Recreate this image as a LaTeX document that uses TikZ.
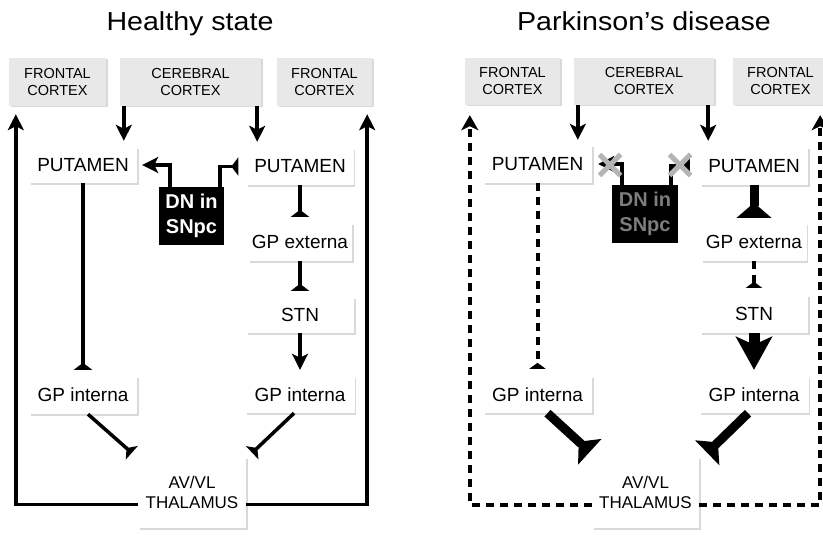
\documentclass[tikz,border=0pt]{standalone}
\usepackage{fontspec}
\setmainfont{Liberation Sans}
\newfontfamily\titlefont[FakeStretch=1.1]{Liberation Sans}
\usetikzlibrary{arrows.meta,shadows,shapes.misc}
\definecolor{boxgrey}{RGB}{232,232,232}
\definecolor{xgrey}{RGB}{180,180,180}
\definecolor{dngrey}{RGB}{125,125,125}
\begin{document}
\begin{tikzpicture}[x=1pt,y=-1pt,
  box/.style={fill=white, inner sep=0pt, align=center,
    font=\fontsize{19}{22}\selectfont,
    drop shadow={shadow xshift=1.5pt, shadow yshift=-1.5pt, fill=black, opacity=0.15}},
  gbox/.style={box, fill=boxgrey, font=\fontsize{14.5}{17}\selectfont},
  thbox/.style={box, font=\fontsize{17}{19.5}\selectfont},
  dnbox/.style={fill=black, inner sep=0pt, align=center, text=white,
    font=\fontsize{20}{25}\selectfont\bfseries},
  ttl/.style={anchor=base, font=\titlefont\fontsize{26}{30}\selectfont},
  ln/.style={line width=3.5pt},
  arr/.style={ln, -{Stealth[length=16pt,width=16pt,inset=4pt]}},
  tee/.style={ln, -{Triangle[reversed,length=7pt,width=18pt]}},
  dsh/.style={line width=4pt, dash pattern=on 8pt off 6pt},
  darr/.style={dsh, -{Stealth[length=15pt,width=17pt,inset=4pt]}},
  dtee/.style={dsh, -{Triangle[reversed,length=6pt,width=16pt]}},
  bigtee/.style={line width=9pt, -{Triangle[reversed,length=15pt,width=34pt]}},
  bigarr/.style={line width=11pt, -{Stealth[length=33pt,width=36pt,inset=8pt]}},
  xmk/.style={cross out, draw=xgrey, line width=5pt, minimum size=16pt, inner sep=0pt}
]
\useasboundingbox[fill=white] (0,0) rectangle (823,535);

% titles
\node[ttl] (t1) at (190,31) {Healthy state};
\node[ttl] (t2) at (644,31) {Parkinson’s disease};

% ---------- left panel ----------
\node[gbox, minimum width=97pt, minimum height=48pt] (fcL1) at (57.5,82) {FRONTAL\\CORTEX};
\node[gbox, minimum width=141pt, minimum height=48pt] (ccL) at (190.5,82) {CEREBRAL\\CORTEX};
\node[gbox, minimum width=95pt, minimum height=48pt] (fcL2) at (324.5,82) {FRONTAL\\CORTEX};
\node[box, minimum width=108pt, minimum height=36pt] (putL1) at (83,165) {PUTAMEN};
\node[box, minimum width=107pt, minimum height=37pt] (putL2) at (300,166.5) {PUTAMEN};
\node[dnbox, minimum width=65pt, minimum height=58pt] (dnL) at (191.5,216) {DN in\\SNpc};
\node[box, minimum width=104pt, minimum height=38pt] (gpeL) at (300,242) {GP externa};
\node[box, minimum width=108pt, minimum height=36pt] (stnL) at (300,315) {STN};
\node[box, minimum width=109pt, minimum height=37pt] (gpiL2) at (300,394.5) {GP interna};
\node[box, minimum width=108pt, minimum height=38pt] (gpiL1) at (83,395) {GP interna};
\node[thbox, minimum width=108pt, minimum height=71pt] (thL) at (192,492.5) {AV/VL\\THALAMUS};

\draw[arr, shorten >=6pt] ([xshift=4pt]ccL.south west) -- ([xshift=4pt]ccL.south west |- putL1.north);
\draw[arr, shorten >=6pt] ([xshift=-4pt]ccL.south east) -- ([xshift=-4pt]ccL.south east |- putL2.north);
\draw[arr] ([xshift=11pt]dnL.north west) |- ([xshift=5pt]putL1.east);
\draw[tee] ([xshift=-4pt]dnL.north east) |- ([xshift=-8pt]putL2.west);
\draw[tee, shorten >=6pt] (putL2.south) -- (gpeL.north);
\draw[tee, shorten >=6pt] (gpeL.south) -- (stnL.north);
\draw[arr, shorten >=6pt] (stnL.south) -- (gpiL2.north);
\draw[tee, shorten >=6pt] (putL1.south) -- (gpiL1.north);
\draw[tee] ([xshift=5pt]gpiL1.south) -- ([xshift=-6pt,yshift=4pt]thL.north west);
\draw[tee] ([xshift=-6pt]gpiL2.south) -- ([xshift=6pt,yshift=4pt]thL.north east);
\draw[arr, shorten >=8pt] ([yshift=-12pt]thL.west) -| ([xshift=7pt]fcL1.south west);
\draw[arr, shorten >=8pt] ([yshift=-12pt]thL.east) -| ([xshift=-5pt]fcL2.south east);

% ---------- right panel ----------
\node[gbox, minimum width=95pt, minimum height=47pt] (fcR1) at (512.5,81.5) {FRONTAL\\CORTEX};
\node[gbox, minimum width=140pt, minimum height=47pt] (ccR) at (644,81.5) {CEREBRAL\\CORTEX};
\node[gbox, minimum width=95pt, minimum height=47pt] (fcR2) at (780.5,81.5) {FRONTAL\\CORTEX};
\node[box, minimum width=109pt, minimum height=38pt] (putR1) at (537.5,164) {PUTAMEN};
\node[box, minimum width=108pt, minimum height=38pt] (putR2) at (754,166) {PUTAMEN};
\node[dnbox, text=dngrey, minimum width=66pt, minimum height=58pt] (dnR) at (645,214) {DN in\\SNpc};
\node[box, minimum width=105pt, minimum height=38pt] (gpeR) at (754,242) {GP externa};
\node[box, minimum width=108pt, minimum height=38pt] (stnR) at (754,314) {STN};
\node[box, minimum width=109pt, minimum height=37pt] (gpiR2) at (754,394.5) {GP interna};
\node[box, minimum width=109pt, minimum height=37pt] (gpiR1) at (537.5,394.5) {GP interna};
\node[thbox, minimum width=107pt, minimum height=71pt] (thR) at (645.5,492.5) {AV/VL\\THALAMUS};

\draw[arr, shorten >=5pt] ([xshift=4pt]ccR.south west) -- ([xshift=4pt]ccR.south west |- putR1.north);
\draw[arr, shorten >=6pt] ([xshift=-6pt]ccR.south east) -- ([xshift=-6pt]ccR.south east |- putR2.north);
\draw[arr] ([xshift=10pt]dnR.north west) |- ([xshift=6pt]putR1.east);
\draw[tee] ([xshift=-7pt]dnR.north east) |- ([xshift=-10pt]putR2.west);
\draw[bigtee, shorten >=5pt] (putR2.south) -- (gpeR.north);
\draw[dtee, shorten >=7pt] (gpeR.south) -- (stnR.north);
\draw[bigarr, shorten >=6pt] (stnR.south) -- (gpiR2.north);
\draw[dtee, shorten >=7pt] (putR1.south) -- (gpiR1.north);
\draw[bigtee] ([xshift=10pt]gpiR1.south) -- ([xshift=-2pt,yshift=5pt]thR.north west);
\draw[bigtee] ([xshift=-6pt]gpiR2.south) -- ([xshift=8pt,yshift=4pt]thR.north east);
\draw[darr, shorten >=10pt] ([yshift=-12pt]thR.west) -| ([xshift=5pt]fcR1.south west);
\draw[darr, shorten >=10pt] ([yshift=-12pt]thR.east) -| ([xshift=-8pt]fcR2.south east);

\node[xmk] (xl) at (610,165) {};
\node[xmk] (xr) at (680,165) {};
\end{tikzpicture}
\end{document}
